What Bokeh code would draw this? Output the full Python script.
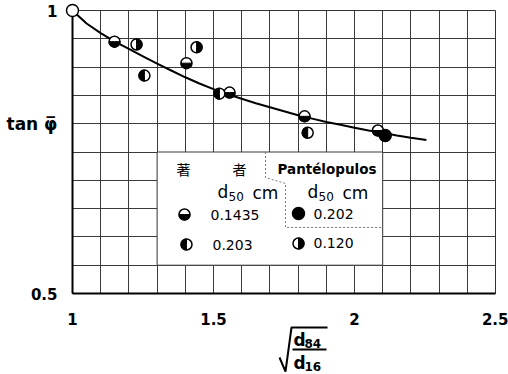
import math
from bokeh.plotting import figure
from bokeh.models import FixedTicker, NumeralTickFormatter
from bokeh.core.properties import value
from bokeh.embed import file_html
from bokeh.resources import INLINE

# ---------------- data ----------------
x_ticks = [1.0, 1.5, 2.0, 2.5]
y_ticks = [0.5, 1.0]
x_grid = [1.0, 1.1, 1.2, 1.3, 1.4, 1.5, 1.6, 1.7, 1.8, 1.9, 2.0, 2.1, 2.2, 2.3, 2.4, 2.5]
y_grid = [0.5, 0.55, 0.6, 0.65, 0.7, 0.75, 0.8, 0.85, 0.9, 0.95, 1.0]

# reference point (open circle)
origin_x = [1.0]
origin_y = [1.0]
# 著者 d50 = 0.1435 cm (lower half black)
a1435_x = [1.149, 1.404, 1.557, 1.823, 2.083]
a1435_y = [0.945, 0.907, 0.855, 0.813, 0.788]
# 著者 d50 = 0.203 cm (left half black)
a203_x = [1.255, 1.521, 1.834]
a203_y = [0.885, 0.853, 0.784]
# Pantélopulos d50 = 0.120 cm (right half black)
p120_x = [1.227, 1.440]
p120_y = [0.940, 0.935]
# Pantélopulos d50 = 0.202 cm (full black)
p202_x = [2.109]
p202_y = [0.779]

# fitted curve
curve_x = [1.00, 1.05, 1.10, 1.15, 1.20, 1.25, 1.30, 1.35, 1.40, 1.45, 1.50, 1.55, 1.60,
           1.65, 1.70, 1.75, 1.80, 1.85, 1.90, 1.95, 2.00, 2.05, 2.10, 2.15, 2.20, 2.255]
curve_y = [1.000, 0.977, 0.960, 0.945, 0.932, 0.919, 0.906, 0.894, 0.882, 0.871, 0.861, 0.852, 0.844,
           0.836, 0.829, 0.822, 0.815, 0.809, 0.803, 0.798, 0.793, 0.788, 0.784, 0.779, 0.775, 0.771]

legend_title_author = "著　　　者"
legend_title_other = "Pantélopulos"
legend_vals = ["0.1435", "0.203", "0.202", "0.120"]

# ---------------- layout helpers (picture pixel -> data) ----------------
def rx(X):
    return 1 + (X - 72) / 282.0

def ry(Y):
    return 1 - (Y - 10) / 566.0

W, H = 508, 374
p = figure(width=W, height=H, x_range=(1.0, 2.5), y_range=(0.5, 1.0),
           output_backend="svg", toolbar_location=None,
           min_border_left=72, min_border_right=13, min_border_top=10, min_border_bottom=81)
p.background_fill_color = "white"
p.border_fill_color = "white"
p.outline_line_color = "#333333"
p.outline_line_width = 1

# grid
p.xgrid.ticker = FixedTicker(ticks=x_grid)
p.ygrid.ticker = FixedTicker(ticks=y_grid)
for g in (p.xgrid, p.ygrid):
    g.grid_line_color = "#3a3a3a"
    g.grid_line_width = 1

# axes
p.xaxis.ticker = FixedTicker(ticks=x_ticks)
p.yaxis.ticker = FixedTicker(ticks=y_ticks)
for ax in (p.xaxis, p.yaxis):
    ax.formatter = NumeralTickFormatter(format="0.[0]")
    ax.axis_line_color = "black"
    ax.axis_line_width = 2
    ax.major_tick_line_color = None
    ax.minor_tick_line_color = None
    ax.major_label_text_font = "DejaVu Sans"
    ax.major_label_text_font_style = "bold"
    ax.major_label_text_font_size = "15px"
    ax.major_label_text_color = "black"
p.xaxis.major_label_standoff = 13
p.yaxis.major_label_standoff = 9

# legend box (white, over the grid)
lx0, lx1, ly0, ly1 = 1.3, 2.1, 0.55, 0.75
p.quad(left=[lx0], right=[lx1], bottom=[ly0], top=[ly1],
       fill_color="white", line_color="#3a3a3a", line_width=1)
p.line([rx(265), rx(265), rx(285), rx(285), lx1],
       [ly1, ry(177), ry(183), ry(227), ry(227)],
       line_color="#777777", line_width=1, line_dash="2 2")

# curve
p.line(curve_x, curve_y, line_color="black", line_width=2)

R = 5.5

def half(xs, ys, start, end, level="glyph"):
    p.scatter(xs, ys, marker="circle", size=2 * R, fill_color="white",
              line_color="black", line_width=1.5, level=level)
    p.wedge(xs, ys, radius=R, radius_units="screen", start_angle=start, end_angle=end,
            fill_color="black", line_color="black", line_width=1, level=level)

def full(xs, ys, level="glyph"):
    p.scatter(xs, ys, marker="circle", size=2 * R + 1, fill_color="black",
              line_color="black", line_width=1.5, level=level)

# data markers
p.scatter(origin_x, origin_y, marker="circle", size=2 * R + 1, fill_color="white",
          line_color="black", line_width=1.5, level="overlay")
half(a1435_x, a1435_y, math.pi, 2 * math.pi)
half(a203_x, a203_y, math.pi / 2, 3 * math.pi / 2)
half(p120_x, p120_y, -math.pi / 2, math.pi / 2)
full(p202_x, p202_y)

# legend samples
half([rx(184)], [ry(214)], math.pi, 2 * math.pi)
half([rx(186)], [ry(244)], math.pi / 2, 3 * math.pi / 2)
full([rx(298)], [ry(213)])
half([rx(298)], [ry(243)], -math.pi / 2, math.pi / 2)

def txt(x, y, s, font="DejaVu Sans", size="14px", style="normal", align="left", level="glyph"):
    p.text([x], [y], text=[s], text_font=value(font), text_font_size=size,
           text_font_style=style, text_align=align, text_baseline="middle",
           text_color="black", level=level)

txt(rx(176), ry(168), legend_title_author, font="Noto Sans CJK JP", size="14px")
txt(rx(277), ry(168), legend_title_other, size="13.5px", style="bold")
# "d50 cm" headers (d with subscript 50)
for off in (0, 90):
    txt(rx(217 + off), ry(191), "d", size="17px")
    txt(rx(228 + off), ry(196), "50", size="12px")
    txt(rx(252 + off), ry(192), "cm", size="17px")
txt(rx(210), ry(214), legend_vals[0], size="14px")
txt(rx(212), ry(244), legend_vals[1], size="14px")
txt(rx(313), ry(213), legend_vals[2], size="14px")
txt(rx(313), ry(242), legend_vals[3], size="14px")

# y label
txt(rx(6), ry(123), "tan φ̅", size="17px", style="bold", level="overlay")

# x label: sqrt(d84/d16)
p.line([rx(279), rx(285), rx(291), rx(327)], [ry(357), ry(371), ry(327), ry(327)],
       line_color="black", line_width=2, level="overlay")
p.line([rx(292), rx(326)], [ry(349), ry(349)], line_color="black", line_width=2, level="overlay")
txt(rx(293), ry(339), "d", size="17px", style="bold", level="overlay")
txt(rx(304), ry(343), "84", size="12px", style="bold", level="overlay")
txt(rx(293), ry(362), "d", size="17px", style="bold", level="overlay")
txt(rx(304), ry(366), "16", size="12px", style="bold", level="overlay")

open("out.html", "w").write(file_html(p, INLINE))
